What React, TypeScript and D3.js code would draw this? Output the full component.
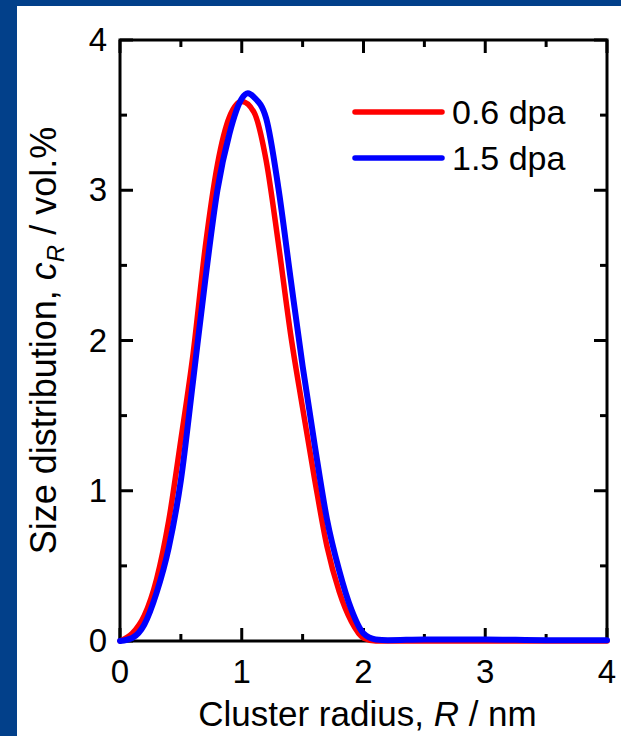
import React from "react";
import * as d3 from "d3";

const X_TICKS = [0, 1, 2, 3, 4];
const Y_TICKS = [0, 1, 2, 3, 4];
const MINOR_TICKS = [0.5, 1.5, 2.5, 3.5];
const SERIES_LABELS = ["0.6 dpa", "1.5 dpa"];
const SERIES_COLORS = ["#ff0000", "#0000ff"];

const RADIUS_06 = [0, 0.1, 0.2, 0.3, 0.4, 0.5, 0.6, 0.7, 0.8, 0.9, 1.0, 1.1, 1.2, 1.3, 1.4, 1.5, 1.6, 1.7, 1.8, 1.9, 2.0, 2.1, 2.2, 2.5, 3.0, 3.5, 4.0];
const DIST_06 = [0, 0.05, 0.17, 0.41, 0.8, 1.34, 1.91, 2.62, 3.17, 3.49, 3.59, 3.52, 3.2, 2.65, 2.05, 1.55, 1.07, 0.63, 0.33, 0.13, 0.02, 0.0, 0.0, 0.0, 0.0, 0.0, 0.0];

const RADIUS_15 = [0, 0.1, 0.2, 0.3, 0.4, 0.5, 0.6, 0.7, 0.8, 0.9, 1.0, 1.05, 1.1, 1.2, 1.3, 1.4, 1.5, 1.6, 1.7, 1.8, 1.9, 2.0, 2.1, 2.2, 2.5, 3.0, 3.5, 4.0];
const DIST_15 = [0, 0.02, 0.11, 0.32, 0.62, 1.07, 1.73, 2.4, 3.0, 3.38, 3.61, 3.645, 3.62, 3.48, 3.02, 2.42, 1.83, 1.3, 0.81, 0.47, 0.21, 0.05, 0.01, 0.005, 0.01, 0.01, 0.005, 0.005];

const FONT = "Arial, 'Liberation Sans', sans-serif";

export default function App() {
  const W = 621;
  const H = 736;
  const L = 120, Rr = 607, T = 40, B = 641;
  const x = d3.scaleLinear().domain([0, 4]).range([L, Rr]);
  const y = d3.scaleLinear().domain([0, 4]).range([B, T]);
  const line = d3
    .line<[number, number]>()
    .x((d) => x(d[0]))
    .y((d) => y(d[1]))
    .curve(d3.curveMonotoneX);

  const series = [
    { r: RADIUS_06, v: DIST_06 },
    { r: RADIUS_15, v: DIST_15 },
  ];

  const major = 13;
  const minor = 7;
  const axisW = 3;

  return (
    <svg
      width={W}
      height={H}
      style={{ position: "absolute", left: 0, top: 0, background: "#fff" }}
      fontFamily={FONT}
    >
      <rect x={0} y={0} width={W} height={H} fill="#fff" />
      <rect x={0} y={0} width={W} height={6} fill="#02408a" />
      <rect x={0} y={0} width={17} height={H} fill="#02408a" />

      {/* ticks */}
      <g stroke="#000" strokeWidth={axisW}>
        {X_TICKS.map((t) => (
          <g key={"xt" + t}>
            <line x1={x(t)} x2={x(t)} y1={B} y2={B - major} />
            <line x1={x(t)} x2={x(t)} y1={T} y2={T + major} />
          </g>
        ))}
        {MINOR_TICKS.map((t) => (
          <g key={"xm" + t}>
            <line x1={x(t)} x2={x(t)} y1={B} y2={B - minor} />
            <line x1={x(t)} x2={x(t)} y1={T} y2={T + minor} />
          </g>
        ))}
        {Y_TICKS.map((t) => (
          <g key={"yt" + t}>
            <line x1={L} x2={L + major} y1={y(t)} y2={y(t)} />
            <line x1={Rr} x2={Rr - major} y1={y(t)} y2={y(t)} />
          </g>
        ))}
        {MINOR_TICKS.map((t) => (
          <g key={"ym" + t}>
            <line x1={L} x2={L + minor} y1={y(t)} y2={y(t)} />
            <line x1={Rr} x2={Rr - minor} y1={y(t)} y2={y(t)} />
          </g>
        ))}
        <rect x={L} y={T} width={Rr - L} height={B - T} fill="none" />
      </g>

      {/* tick labels */}
      <g fontSize={33} fill="#000">
        {X_TICKS.map((t) => (
          <text key={"xl" + t} x={x(t)} y={B + 42} textAnchor="middle">
            {t}
          </text>
        ))}
        {Y_TICKS.map((t) => (
          <text key={"yl" + t} x={L - 13} y={y(t) + 11} textAnchor="end">
            {t}
          </text>
        ))}
      </g>

      {/* curves */}
      {series.map((s, i) => (
        <path
          key={"s" + i}
          d={line(s.r.map((r, j) => [r, s.v[j]] as [number, number])) || ""}
          fill="none"
          stroke={SERIES_COLORS[i]}
          strokeWidth={i === 0 ? 5.5 : 6}
          strokeLinejoin="round"
          strokeLinecap="round"
        />
      ))}

      {/* legend */}
      {SERIES_LABELS.map((lab, i) => (
        <g key={"lg" + i}>
          <line
            x1={355}
            x2={442}
            y1={112 + i * 46}
            y2={112 + i * 46}
            stroke={SERIES_COLORS[i]}
            strokeWidth={5.5}
            strokeLinecap="round"
          />
          <text x={452} y={112 + i * 46 + 12} fontSize={34} fill="#000">
            {lab}
          </text>
        </g>
      ))}

      {/* axis titles */}
      <text x={(L + Rr) / 2 + 4} y={726} textAnchor="middle" fontSize={35} fill="#000">
        Cluster radius, <tspan fontStyle="italic">R</tspan> / nm
      </text>
      <text
        transform={`translate(56, ${(T + B) / 2}) rotate(-90)`}
        textAnchor="middle"
        fontSize={36}
        fill="#000"
      >
        Size distribution, <tspan fontStyle="italic">c</tspan>
        <tspan fontStyle="italic" fontSize={24} dy={8}>R</tspan>
        <tspan dy={-8}> / vol.%</tspan>
      </text>
    </svg>
  );
}
